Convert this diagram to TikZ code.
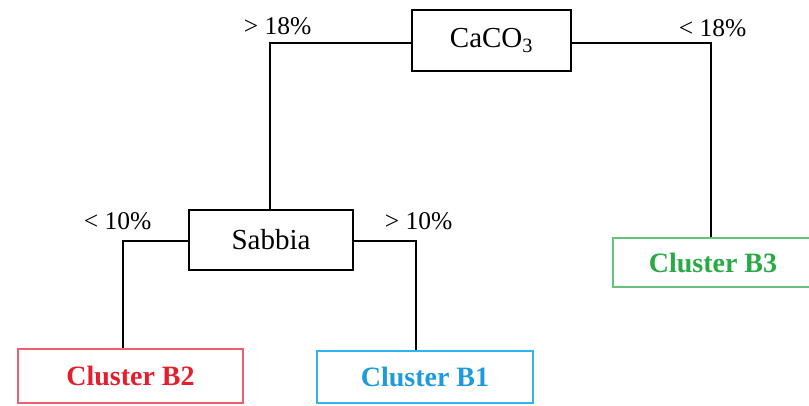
\documentclass[tikz,border=0pt]{standalone}
\usepackage{fontspec}
\setmainfont{Liberation Serif}
\definecolor{cred}{RGB}{228,30,45}
\definecolor{credb}{RGB}{240,95,110}
\definecolor{cblue}{RGB}{30,155,220}
\definecolor{cblueb}{RGB}{50,180,240}
\definecolor{cgreen}{RGB}{40,170,70}
\definecolor{cgreenb}{RGB}{100,195,120}
\tikzset{
  blackbox/.style={draw=black, line width=1.3pt, inner sep=0pt, font=\fontsize{29}{32}\selectfont},
  clusterbox/.style={line width=1.3pt, inner sep=0pt, font=\fontsize{28}{31}\selectfont\bfseries},
  conn/.style={draw=black, line width=1.2pt},
  lbl/.style={inner sep=0pt, font=\fontsize{25.5}{28}\selectfont}
}
\begin{document}
\begin{tikzpicture}[x=1pt,y=-1pt]
\useasboundingbox (0,0) rectangle (809,406);
\fill[white] (0,0) rectangle (809,406);
\node[blackbox, minimum width=159pt, minimum height=61pt] (ca) at (491.5,40.5) {CaCO\textsubscript{3}};
\node[blackbox, minimum width=164pt, minimum height=60pt] (sab) at (271,240) {Sabbia};
\node[clusterbox, draw=cgreenb, text=cgreen, minimum width=200pt, minimum height=49pt] (b3) at (713,262.5) {Cluster B3};
\node[clusterbox, draw=credb, text=cred, minimum width=225pt, minimum height=54pt] (b2) at (130.5,376) {Cluster B2};
\node[clusterbox, draw=cblueb, text=cblue, minimum width=216pt, minimum height=52pt] (b1) at (425,377) {Cluster B1};
\draw[conn] ([yshift=-2.5pt]ca.west) -| ([xshift=-1pt]sab.north);
\draw[conn] ([yshift=-2.5pt]ca.east) -| ([xshift=-2pt]b3.north);
\draw[conn] ([yshift=-1pt]sab.west) -| ([xshift=-7.5pt]b2.north);
\draw[conn] ([yshift=-1pt]sab.east) -| ([xshift=-9pt]b1.north);
\node[lbl] (l1) at (277.5,26.5) {> 18\%};
\node[lbl] (l2) at (712.5,28) {< 18\%};
\node[lbl] (l3) at (117.5,221) {< 10\%};
\node[lbl] (l4) at (418.5,221) {> 10\%};
\end{tikzpicture}
\end{document}
